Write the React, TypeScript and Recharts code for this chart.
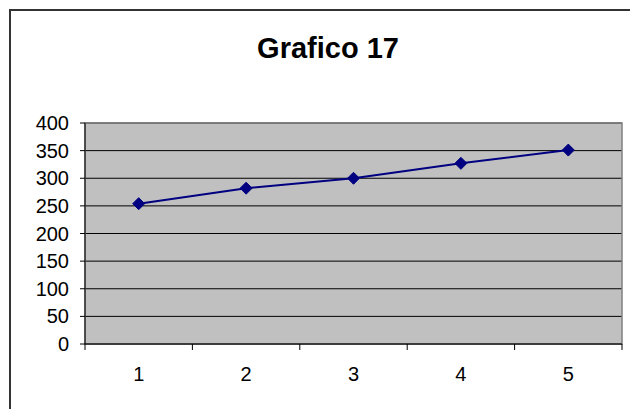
import React from "react";
import { LineChart, Line, XAxis, YAxis, CartesianGrid, ReferenceArea } from "recharts";

const title = "Grafico 17";
const categories = ["1", "2", "3", "4", "5"];
const values = [254, 282, 300, 327, 351];
const yTicks = [0, 50, 100, 150, 200, 250, 300, 350, 400];

const data = categories.map((c, i) => ({ x: i + 1, label: c, value: values[i] }));
const xTicks: number[] = [];
for (let i = 0; i <= categories.length; i++) {
  xTicks.push(i + 0.5);
  if (i < categories.length) xTicks.push(i + 1);
}

const FONT = "'Liberation Sans', Arial, sans-serif";

const Diamond = (props: any) => {
  const { cx, cy } = props;
  if (cx == null || cy == null) return null;
  const r = 6;
  return (
    <polygon
      points={`${cx},${cy - r} ${cx + r},${cy} ${cx},${cy + r} ${cx - r},${cy}`}
      fill="#000080"
      stroke="#000080"
    />
  );
};

const XTick = (props: any) => {
  const { x, y, payload } = props;
  const v = payload.value as number;
  if (Math.abs(v - Math.round(v)) > 0.01) {
    return <line x1={x} x2={x} y1={y} y2={y + 6} stroke="#000" strokeWidth={1} />;
  }
  const lab = categories[Math.round(v) - 1] ?? "";
  return (
    <text x={x} y={y + 37} textAnchor="middle" fontSize={20} fontFamily={FONT} fill="#000">
      {lab}
    </text>
  );
};

export default function App() {
  return (
    <div style={{ position: "absolute", left: 0, top: 0, width: 630, height: 409, overflow: "hidden", background: "#fff" }}>
      <div
        style={{
          position: "absolute",
          left: 9,
          top: 9,
          width: 660,
          height: 440,
          border: "2px solid #333",
          boxSizing: "border-box",
        }}
      />
      <svg style={{ position: "absolute", left: 0, top: 0 }} width={630} height={409}>
        <text x={328} y={58} textAnchor="middle" fontSize={29} fontWeight="bold" fontFamily={FONT} fill="#000">
          {title}
        </text>
      </svg>
      <div style={{ position: "absolute", left: 0, top: 0 }}>
        <LineChart width={630} height={409} data={data} margin={{ top: 123, right: 8, bottom: 0, left: 0 }}>
          <CartesianGrid horizontal={true} vertical={false} stroke="#000" strokeOpacity={1} fill="#C0C0C0" fillOpacity={1} />
          <ReferenceArea x1={0.5} x2={5.5} y1={0} y2={400} fill="none" stroke="#808080" strokeWidth={1.5} fillOpacity={0} ifOverflow="visible" />
          <XAxis
            dataKey="x"
            type="number"
            domain={[0.5, 5.5]}
            ticks={xTicks}
            interval={0}
            height={65}
            tickLine={false}
            tickSize={0}
            tickMargin={0}
            axisLine={{ stroke: "#000" }}
            tick={<XTick />}
            allowDataOverflow
          />
          <YAxis
            type="number"
            domain={[0, 400]}
            ticks={yTicks}
            interval={0}
            width={85}
            tickSize={5}
            tickMargin={11}
            axisLine={{ stroke: "#000" }}
            tickLine={{ stroke: "#000" }}
            tick={{ fontSize: 20, fontFamily: FONT, fill: "#000" }}
          />
          <Line
            type="linear"
            dataKey="value"
            stroke="#000080"
            strokeWidth={2}
            dot={<Diamond />}
            activeDot={false}
            isAnimationActive={false}
          />
        </LineChart>
      </div>
    </div>
  );
}
